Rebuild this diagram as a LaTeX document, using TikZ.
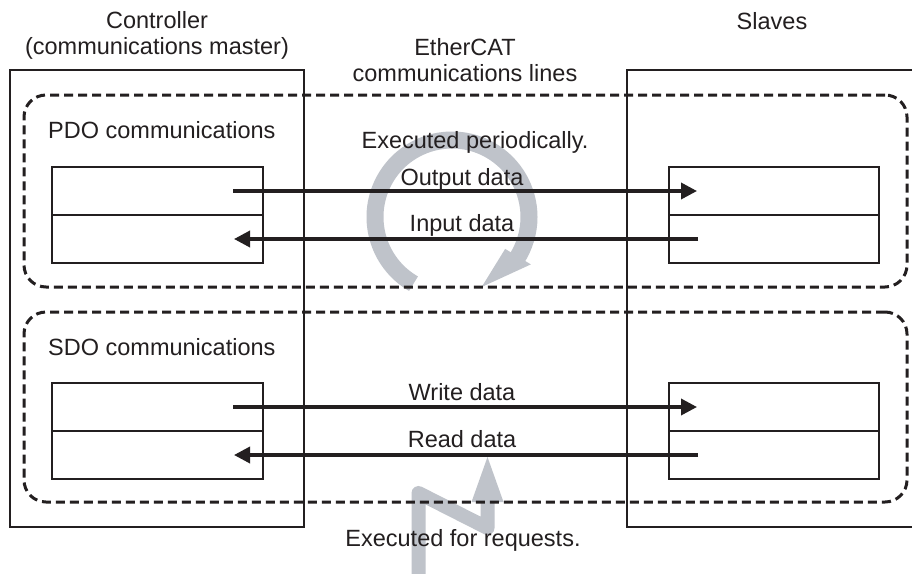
\documentclass[tikz,border=0pt]{standalone}
\usepackage{fontspec}
\setmainfont{Liberation Sans}
\usetikzlibrary{arrows.meta}
\definecolor{ink}{RGB}{35,31,32}
\definecolor{flow}{RGB}{191,195,202}
\begin{document}
\begin{tikzpicture}[x=1pt,y=-1pt,
  lbl/.style={font=\fontsize{23.5}{27}\selectfont, text=ink, inner sep=0pt, anchor=base},
  box/.style={draw=ink, line width=2pt},
  cell/.style={draw=ink, line width=2pt, minimum height=48pt, inner sep=0pt, outer sep=0pt},
  lcell/.style={cell, minimum width=211pt},
  rcell/.style={cell, minimum width=210pt},
  zone/.style={draw=ink, line width=3pt, dash pattern=on 9pt off 5pt, rounded corners=22pt},
  data/.style={draw=ink, line width=3.5pt, -{Triangle[length=16pt,width=16pt]}},
  band/.style={draw=flow, line width=17pt},
]
\useasboundingbox (0,0) rectangle (912,573);
\fill[white] (0,0) rectangle (912,573);

% gray flow symbols (behind everything)
\coordinate (cyc) at (452,217);
\draw[band] ([shift={(120:77)}]cyc) arc[start angle=120, end angle=393, radius=77];
\fill[flow] ([shift={(31:62)}]cyc) -- ([shift={(31:92)}]cyc) -- ([shift={(67:76)}]cyc) -- cycle;

\coordinate (z0) at (418.5,580);
\coordinate (z1) at (418.5,493);
\coordinate (z2) at (487.5,528);
\coordinate (z3) at (487.5,500);
\coordinate (zt) at (487.5,457);
\draw[draw=flow, line width=14pt, line join=round] (z0) -- (z1) -- (z2) -- (z3);
\fill[flow] (471.5,502) -- (zt) -- (503.5,502) -- cycle;

% outer boxes
\node[box, minimum width=294pt, minimum height=457pt, inner sep=0pt] (ctrl) at (157,298.5) {};
\coordinate (sTR) at (914,70);
\coordinate (sTL) at (627,70);
\coordinate (sBL) at (627,527);
\coordinate (sBR) at (914,527);
\draw[box] (sTR) -- (sTL) -- (sBL) -- (sBR);

% dashed zones
\node[zone, minimum width=883pt, minimum height=192pt, inner sep=0pt] (pdoz) at (465.5,191) {};
\node[zone, minimum width=883pt, minimum height=190pt, inner sep=0pt] (sdoz) at (465.5,407) {};

% data cells
\node[lcell] (mp1) at (157.5,191) {};
\node[lcell] (mp2) at (157.5,239) {};
\node[rcell] (sp1) at (774,191) {};
\node[rcell] (sp2) at (774,239) {};
\node[lcell] (ms1) at (157.5,407) {};
\node[lcell] (ms2) at (157.5,455) {};
\node[rcell] (ss1) at (774,407) {};
\node[rcell] (ss2) at (774,455) {};

% arrow endpoints
\coordinate (a1s) at (233,191);  \coordinate (a1e) at (697,191);
\coordinate (a2s) at (698,239);  \coordinate (a2e) at (234,239);
\coordinate (a3s) at (233,407);  \coordinate (a3e) at (697,407);
\coordinate (a4s) at (698,455);  \coordinate (a4e) at (234,455);
\draw[data] (a1s) -- (a1e);
\draw[data] (a2s) -- (a2e);
\draw[data] (a3s) -- (a3e);
\draw[data] (a4s) -- (a4e);

% texts
\node[lbl] (t1) at (157,28) {Controller};
\node[lbl] (t2) at (157,54) {(communications master)};
\node[lbl] (t3) at (465,55) {EtherCAT};
\node[lbl] (t4) at (465,81) {communications lines};
\node[lbl] (t5) at (772,29) {Slaves};
\node[lbl, anchor=base west] (t6) at (48,138) {PDO communications};
\node[lbl] (t7) at (475,148) {Executed periodically.};
\node[lbl] (t8) at (462,185) {Output data};
\node[lbl] (t9) at (462,231) {Input data};
\node[lbl, anchor=base west] (t10) at (48,355) {SDO communications};
\node[lbl] (t11) at (462,400) {Write data};
\node[lbl] (t12) at (462,447) {Read data};
\node[lbl] (t13) at (463,546) {Executed for requests.};
\end{tikzpicture}
\end{document}
